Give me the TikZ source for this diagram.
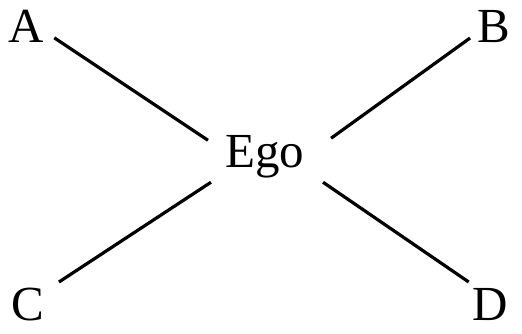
\documentclass[tikz,border=0pt]{standalone}
\usepackage{fontspec}
\setmainfont{Liberation Serif}

\begin{document}
\begin{tikzpicture}[x=1pt, y=-1pt, line width=3.2pt,
  lbl/.style={font=\fontsize{49}{49}\selectfont, inner sep=0pt, anchor=base}]
  \useasboundingbox (0,0) rectangle (522,333);
  % the four others and ego in the middle
  \node[lbl] (ego) at (265,167) {Ego};
  \node[lbl] (a) at (26,42) {A};
  \node[lbl] (b) at (494,42) {B};
  \node[lbl] (c) at (28,320) {C};
  \node[lbl] (d) at (490,320) {D};
  % ties, kept clear of the letters
  \draw ([shift={(9pt,-12pt)}]a.east) -- ([shift={(-16pt,16pt)}]ego.west);
  \draw ([shift={(-6pt,-12pt)}]b.west) -- ([shift={(25pt,18pt)}]ego.east);
  \draw ([shift={(13pt,22pt)}]c.east) -- ([shift={(-13pt,-26pt)}]ego.west);
  \draw ([shift={(-2pt,22pt)}]d.west) -- ([shift={(17pt,-26pt)}]ego.east);
\end{tikzpicture}
\end{document}
